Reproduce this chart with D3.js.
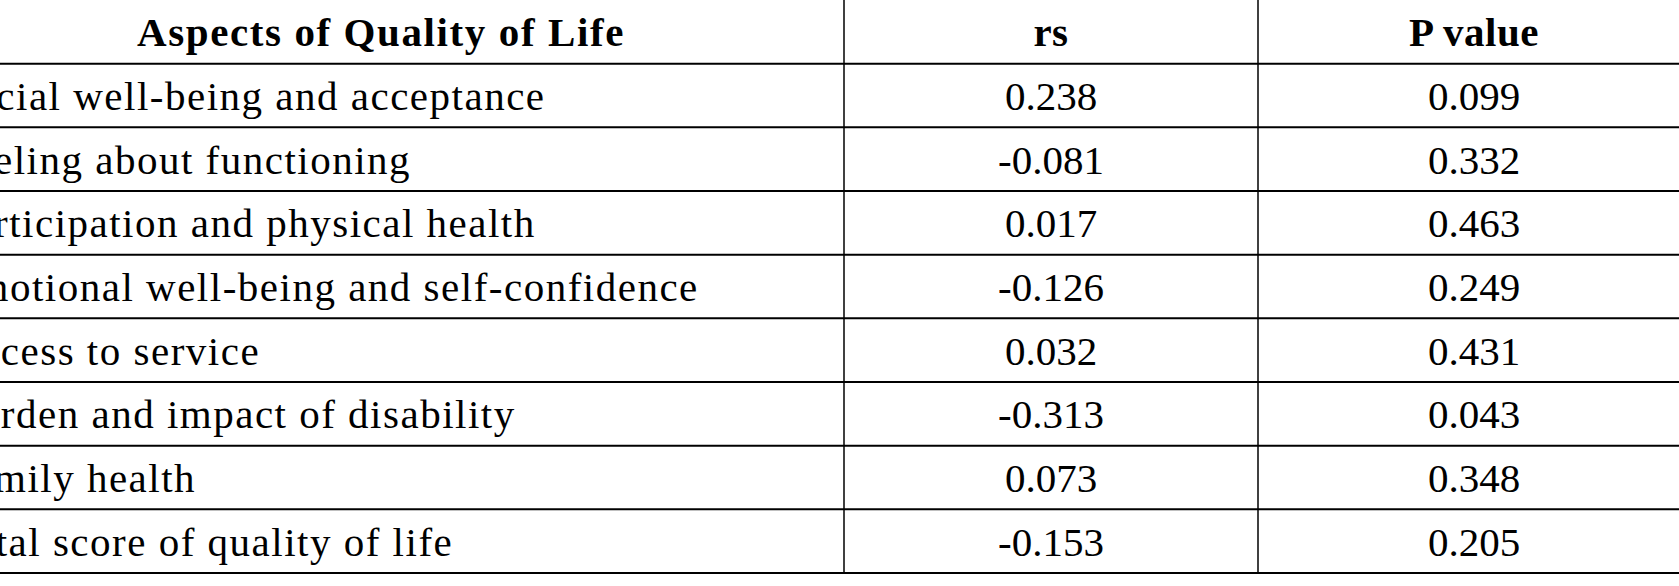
<!DOCTYPE html>
<html><head><meta charset="utf-8">
<script src="https://cdn.jsdelivr.net/npm/d3@7"></script>
<style>body{margin:0;background:#fff;overflow:hidden}</style>
</head><body>
<svg id="c" width="1679" height="586"></svg>
<script>
const headers = ["Aspects of Quality of Life", "rs", "P value"];
const aspects = ["Social well-being and acceptance","Feeling about functioning","Participation and physical health","Emotional well-being and self-confidence","Access to service","Burden and impact of disability","Family health","Total score of quality of life"];
const rsValues = ["0.238","-0.081","0.017","-0.126","0.032","-0.313","0.073","-0.153"];
const pValues = ["0.099","0.332","0.463","0.249","0.431","0.043","0.348","0.205"];

const svg = d3.select("#c");
const font = "'Liberation Serif', serif";
const rows = d3.scaleBand().domain(d3.range(aspects.length + 1)).range([0, 573]);
const colEdges = [-82, 844, 1258, 1690];
const colCenter = i => (colEdges[i] + colEdges[i+1]) / 2;

d3.range(1, aspects.length + 2).forEach(i => {
  const y = i <= aspects.length ? rows(i) : 573;
  svg.append("line").attr("x1",0).attr("x2",1679).attr("y1",y).attr("y2",y)
    .attr("stroke","#000").attr("stroke-width",2);
});
[844,1258].forEach(x => svg.append("line").attr("x1",x).attr("x2",x).attr("y1",0).attr("y2",573)
  .attr("stroke","#000").attr("stroke-width",1.5));

headers.forEach((h,i) => svg.append("text").attr("x",colCenter(i)).attr("y",rows(0)+rows.bandwidth()/2)
  .attr("dy","0.35em").attr("text-anchor","middle").attr("font-family",font)
  .attr("font-weight","bold").attr("font-size",41).attr("letter-spacing", i===0?1.6:0.5).text(h));

aspects.forEach((a,r) => {
  const y = rows(r+1) + rows.bandwidth()/2;
  svg.append("text").attr("x",-50).attr("y",y).attr("dy","0.35em").attr("font-family",font)
    .attr("font-size",41).attr("letter-spacing",1.5).text(a);
  svg.append("text").attr("x",colCenter(1)).attr("y",y).attr("dy","0.35em").attr("text-anchor","middle")
    .attr("font-family",font).attr("font-size",41).text(rsValues[r]);
  svg.append("text").attr("x",colCenter(2)).attr("y",y).attr("dy","0.35em").attr("text-anchor","middle")
    .attr("font-family",font).attr("font-size",41).text(pValues[r]);
});
</script></body></html>
